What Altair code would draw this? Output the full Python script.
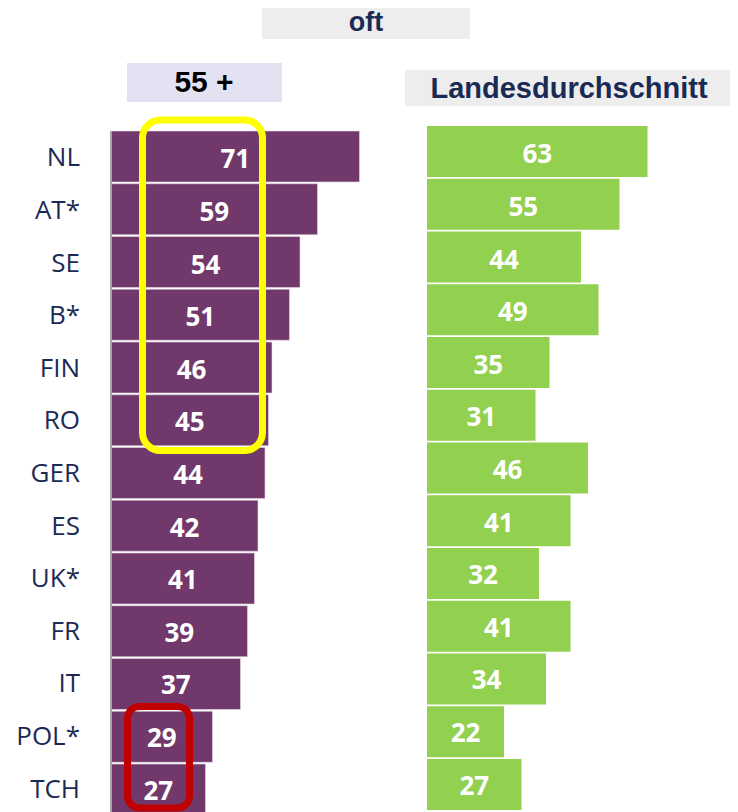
import altair as alt
import pandas as pd

countries = ["NL", "AT*", "SE", "B*", "FIN", "RO", "GER", "ES", "UK*", "FR", "IT", "POL*", "TCH"]
age55 = [71, 59, 54, 51, 46, 45, 44, 42, 41, 39, 37, 29, 27]
national = [63, 55, 44, 49, 35, 31, 46, 41, 32, 41, 34, 22, 27]

title_main = "oft"
title_left = "55 +"
title_right = "Landesdurchschnitt"

W, H = 722, 804
K = 3.5   # px per unit
L0 = 103  # zero of left panel (plot coords)
R0 = 419  # zero of right panel

df = pd.DataFrame({"country": countries, "age55": age55, "national": national})
one = pd.DataFrame({"a": [0]})

PURPLE = "#71386b"
GREEN = "#92d050"
NAVY = "#1b2a55"

lx = alt.Scale(domain=[-L0 / K, (W - L0) / K], nice=False, zero=False)
rx = alt.Scale(domain=[-R0 / K, (W - R0) / K], nice=False, zero=False)
ly = alt.Scale(domain=countries, range=[123, 807], paddingInner=0.0332, paddingOuter=0)
ry = alt.Scale(domain=countries, range=[118, 802], paddingInner=0.0332, paddingOuter=0)

base = alt.Chart(df).transform_calculate(
    zero="0", lmid="datum.age55/2", rmid="datum.national/2"
)

left_bars = base.mark_bar(color=PURPLE, stroke="#e6dbe4", strokeWidth=0.6).encode(
    x=alt.X("age55:Q", scale=lx, axis=None),
    x2=alt.X2("zero:Q"),
    y=alt.Y("country:N", scale=ly, axis=None, sort=countries),
)
left_labels = base.mark_text(color="white", font="Open Sans", fontWeight="bold", fontSize=26,
                             baseline="middle", dy=3).encode(
    x=alt.X("lmid:Q", scale=lx, axis=None),
    y=alt.Y("country:N", scale=ly, axis=None, sort=countries),
    text=alt.Text("age55:Q"),
)
country_labels = base.mark_text(color=NAVY, font="Open Sans", fontSize=26, align="right",
                                baseline="middle", dy=1).encode(
    x=alt.value(72),
    y=alt.Y("country:N", scale=ly, axis=None, sort=countries),
    text=alt.Text("country:N"),
)
right_bars = base.mark_bar(color=GREEN).encode(
    x=alt.X("national:Q", scale=rx, axis=None),
    x2=alt.X2("zero:Q"),
    y=alt.Y("country:N", scale=ry, axis=None, sort=countries),
)
right_labels = base.mark_text(color="white", font="Open Sans", fontWeight="bold", fontSize=26,
                              baseline="middle", dy=3).encode(
    x=alt.X("rmid:Q", scale=rx, axis=None),
    y=alt.Y("country:N", scale=ry, axis=None, sort=countries),
    text=alt.Text("national:Q"),
)

axis_line = alt.Chart(one).mark_rule(color="#a6a6a6", strokeWidth=2).encode(
    x=alt.value(103), y=alt.value(123), y2=alt.value(H)
)


def box(x1, x2, y1, y2, fill):
    return alt.Chart(one).mark_rect(color=fill).encode(
        x=alt.value(x1), x2=alt.value(x2), y=alt.value(y1), y2=alt.value(y2)
    )


def label(txt, x, y, color, size):
    return alt.Chart(pd.DataFrame({"t": [txt]})).mark_text(
        font="Liberation Sans", fontWeight="bold", fontSize=size, color=color,
        align="center", baseline="middle"
    ).encode(x=alt.value(x), y=alt.value(y), text="t:N")


box_main = box(254, 462, 0, 31, "#ecedec")
box_left = box(119, 274, 55, 94, "#e3e2f3")
box_right = box(397, 726, 62, 98, "#ecedec")
txt_main = label(title_main, 358, 15, NAVY, 27)
txt_left = label(title_left, 196, 75, "#000000", 30)
txt_right = label(title_right, 561, 81, NAVY, 29)

yellow = alt.Chart(one).mark_rect(filled=False, stroke="#ffff00", strokeWidth=7, cornerRadius=18).encode(
    x=alt.value(134.5), x2=alt.value(254.5), y=alt.value(112), y2=alt.value(442.5)
)
red = alt.Chart(one).mark_rect(filled=False, stroke="#c00000", strokeWidth=7, cornerRadius=12).encode(
    x=alt.value(119.5), x2=alt.value(181.5), y=alt.value(698.5), y2=alt.value(800)
)

chart = alt.layer(
    box_main, box_left, box_right, txt_main, txt_left, txt_right,
    left_bars, right_bars, axis_line, left_labels, right_labels, country_labels,
    yellow, red,
).resolve_scale(x="independent", y="independent").properties(
    width=W, height=H, padding=0, autosize=alt.AutoSizeParams(type="none")
).configure_view(stroke=None)

chart.save("out.html", embed_options={"renderer": "svg", "actions": False})
